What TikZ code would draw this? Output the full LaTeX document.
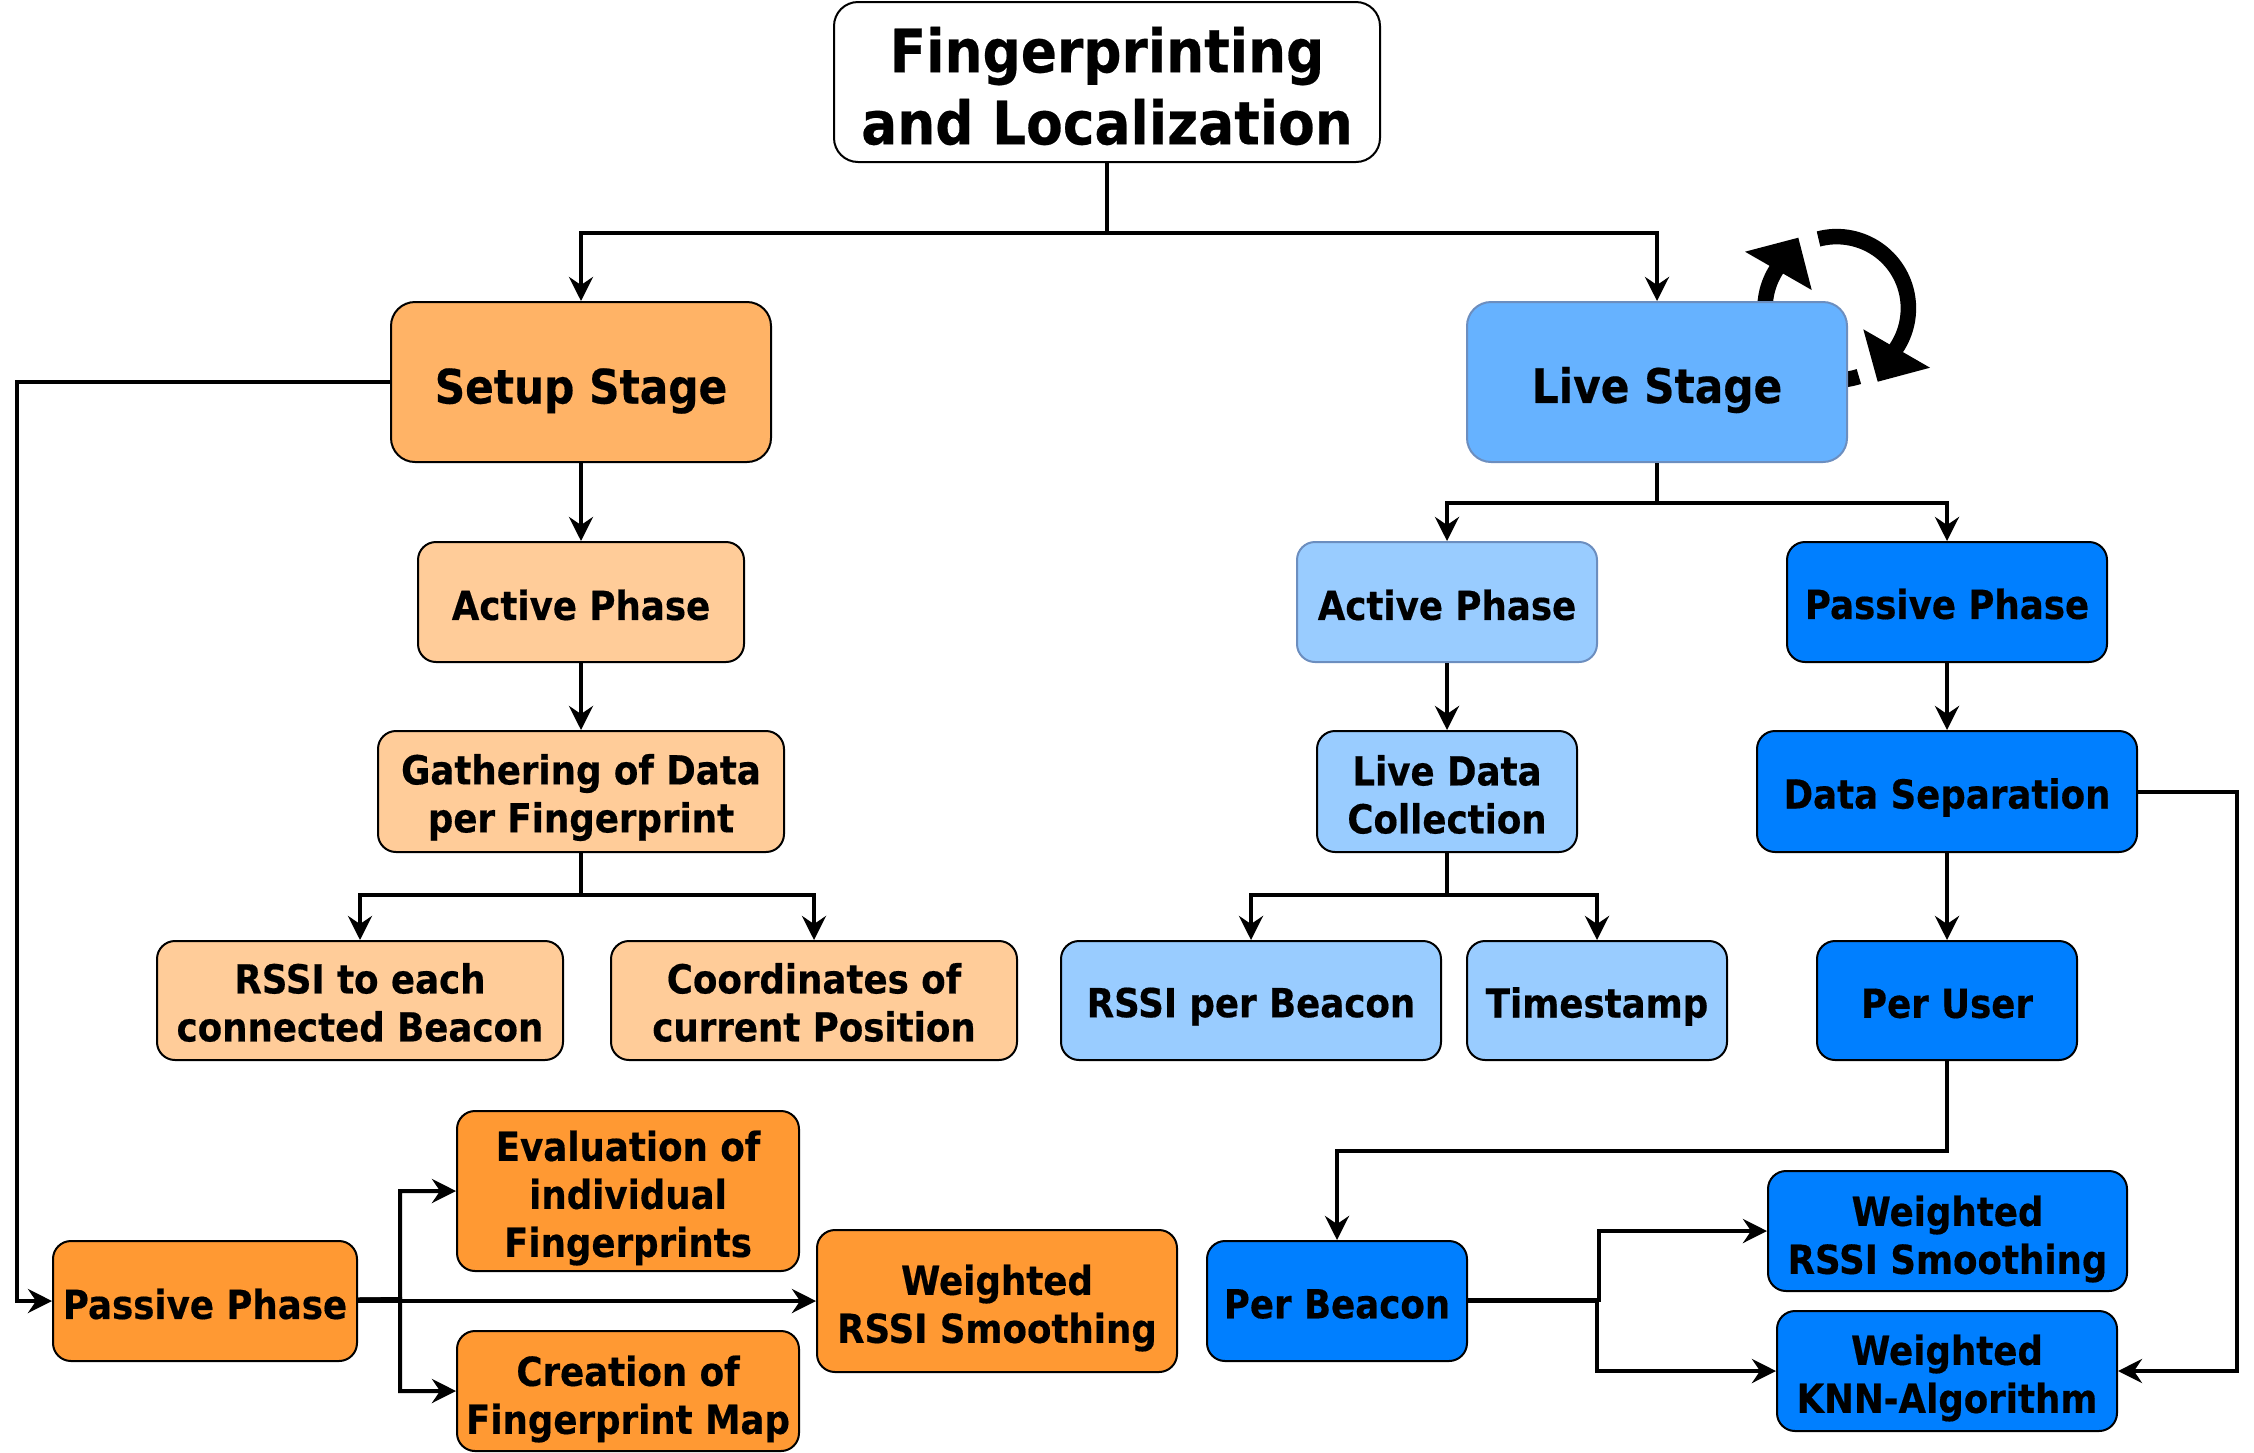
\documentclass[tikz,border=0pt]{standalone}
\usepackage{fontspec}
\setmainfont[FakeStretch=0.89,FakeBold=0.4]{DejaVu Sans}
\usetikzlibrary{arrows.meta}
\definecolor{cSetup}{HTML}{FFB366}
\definecolor{cOrL}{HTML}{FFCC99}
\definecolor{cOrD}{HTML}{FF9933}
\definecolor{cLive}{HTML}{66B2FF}
\definecolor{cBlL}{HTML}{99CCFF}
\definecolor{cBlD}{HTML}{007FFF}
\definecolor{cEdge}{HTML}{6C8EBF}
\tikzset{
  x=1pt,y=-1pt,
  box/.style={draw=black,line width=2pt,rounded corners=18pt,inner sep=0pt,align=center,
    font=\fontsize{40}{48}\selectfont\bfseries},
  big/.style={rounded corners=24pt,font=\fontsize{60}{72}\selectfont\bfseries},
  mid/.style={rounded corners=24pt,font=\fontsize{47.5}{56}\selectfont\bfseries},
  wire/.style={draw=black,line width=4pt,-{Stealth[length=24pt,width=24pt,inset=8pt]}},
  cyc/.style={draw=black,line width=15.5pt},
  tipfill/.style={fill=black,draw=none},
}
\newcommand{\bx}[9]{% name, style, x0,y0,x1,y1, fill, text, text shift
  \pgfmathsetmacro{\cxx}{(#3+#5)/2}\pgfmathsetmacro{\cyy}{(#4+#6)/2}
  \pgfmathsetmacro{\ww}{#5-#3}\pgfmathsetmacro{\hh}{#6-#4}
  \pgfmathsetmacro{\tyy}{\cyy+#9}
  \node[box,#2,fill=#7,minimum width=\ww pt,minimum height=\hh pt] (#1) at (\cxx,\cyy) {};
  \node[box,#2,draw=none,fill=none] (#1t) at (\cxx,\tyy) {#8};}
\begin{document}
\begin{tikzpicture}
\useasboundingbox (0,0) rectangle (2254,1452);
% cycle arrows behind the Live Stage box
\draw[cyc] plot[domain=-72:-215,samples=50] ({1836.7+71.7*cos(\x)},{308.3-71.7*sin(\x)});
\draw[cyc] plot[domain=104.7:-37,samples=50] ({1836.7+71.7*cos(\x)},{308.3-71.7*sin(\x)});
\fill[tipfill] (1745,251.7) -- (1798.3,237.7) -- (1811.7,290) -- cycle;
\fill[tipfill] (1863.3,329.3) -- (1877.7,381.7) -- (1930,367.7) -- cycle;
% nodes
\bx{title}{big}{834}{2}{1380}{162}{white}{Fingerprinting\\and Localization}{4}
\bx{setup}{mid}{391}{302}{771}{462}{cSetup}{Setup Stage}{9}
\bx{live}{mid,draw=cEdge}{1467}{302}{1847}{462}{cLive}{Live Stage}{8}
\bx{activeL}{}{418}{542}{744}{662}{cOrL}{Active Phase}{3}
\bx{gather}{}{378}{731}{784}{852}{cOrL}{Gathering of Data\\per Fingerprint}{6}
\bx{rssiE}{}{157}{941}{563}{1060}{cOrL}{RSSI to each\\connected Beacon}{2}
\bx{coord}{}{611}{941}{1017}{1060}{cOrL}{Coordinates of\\current Position}{2}
\bx{passL}{}{53}{1241}{357}{1361}{cOrD}{Passive Phase}{3}
\bx{eval}{}{457}{1111}{799}{1271}{cOrD}{Evaluation of\\individual\\Fingerprints}{7}
\bx{create}{}{457}{1331}{799}{1451}{cOrD}{Creation of\\Fingerprint Map}{8}
\bx{smoothL}{}{817}{1230}{1177}{1372}{cOrD}{Weighted\\RSSI Smoothing}{7}
\bx{activeR}{draw=cEdge}{1297}{542}{1597}{662}{cBlL}{Active Phase}{3}
\bx{liveData}{}{1317}{731}{1577}{852}{cBlL}{Live Data\\Collection}{3}
\bx{rssiB}{}{1061}{941}{1441}{1060}{cBlL}{RSSI per Beacon}{6}
\bx{stamp}{}{1467}{941}{1727}{1060}{cBlL}{Timestamp}{6}
\bx{passR}{}{1787}{542}{2107}{662}{cBlD}{Passive Phase}{2}
\bx{dataSep}{}{1757}{731}{2137}{852}{cBlD}{Data Separation}{6}
\bx{perUser}{}{1817}{941}{2077}{1060}{cBlD}{Per User}{3}
\bx{perBeacon}{}{1207}{1241}{1467}{1361}{cBlD}{Per Beacon}{3}
\bx{smoothR}{}{1768}{1171}{2127}{1291}{cBlD}{Weighted\\RSSI Smoothing}{8}
\bx{knn}{}{1777}{1311}{2117}{1431}{cBlD}{Weighted\\KNN-Algorithm}{7}
% junctions
\coordinate (jTop) at (1107,233);
\coordinate (jLive) at (1657,503);
\coordinate (jGather) at (581,895);
\coordinate (jData) at (1447,895);
\coordinate (jLeft) at (17,1301);
\coordinate (jUser) at (1947,1151);
\coordinate (jRight) at (2237,1371);
\coordinate (bPass) at (400,1299);
\coordinate (bBeaconA) at (1599,1300);
\coordinate (bBeaconB) at (1597,1301);
% connectors
\draw[wire] (title.south) |- (jTop) -| (setup.north);
\draw[wire] (title.south) |- (jTop) -| (live.north);
\draw[wire] (setup.south) -- (activeL.north);
\draw[wire] (activeL.south) -- (gather.north);
\draw[wire] (gather.south) |- (jGather) -| (rssiE.north);
\draw[wire] (gather.south) |- (jGather) -| (coord.north);
\draw[wire] (setup.west) -| (jLeft) -- (passL.west);
\draw[wire] ([yshift=1.5pt]passL.east) -- (bPass) |- (eval.west);
\draw[wire] ([yshift=1.5pt]passL.east) -- (bPass) |- (create.west);
\draw[wire] (passL.east) -- (smoothL.west);
\draw[wire] (live.south) |- (jLive) -| (activeR.north);
\draw[wire] (live.south) |- (jLive) -| (passR.north);
\draw[wire] (activeR.south) -- (liveData.north);
\draw[wire] (liveData.south) |- (jData) -| (rssiB.north);
\draw[wire] (liveData.south) |- (jData) -| (stamp.north);
\draw[wire] (passR.south) -- (dataSep.north);
\draw[wire] (dataSep.south) -- (perUser.north);
\draw[wire] (perUser.south) |- (jUser) -| (perBeacon.north);
\draw[wire] ([yshift=1pt]perBeacon.east) -- (bBeaconA) |- (smoothR.west);
\draw[wire] (perBeacon.east) -- (bBeaconB) |- (knn.west);
\draw[wire] (dataSep.east) -| (jRight) -- (knn.east);
\end{tikzpicture}
\end{document}
